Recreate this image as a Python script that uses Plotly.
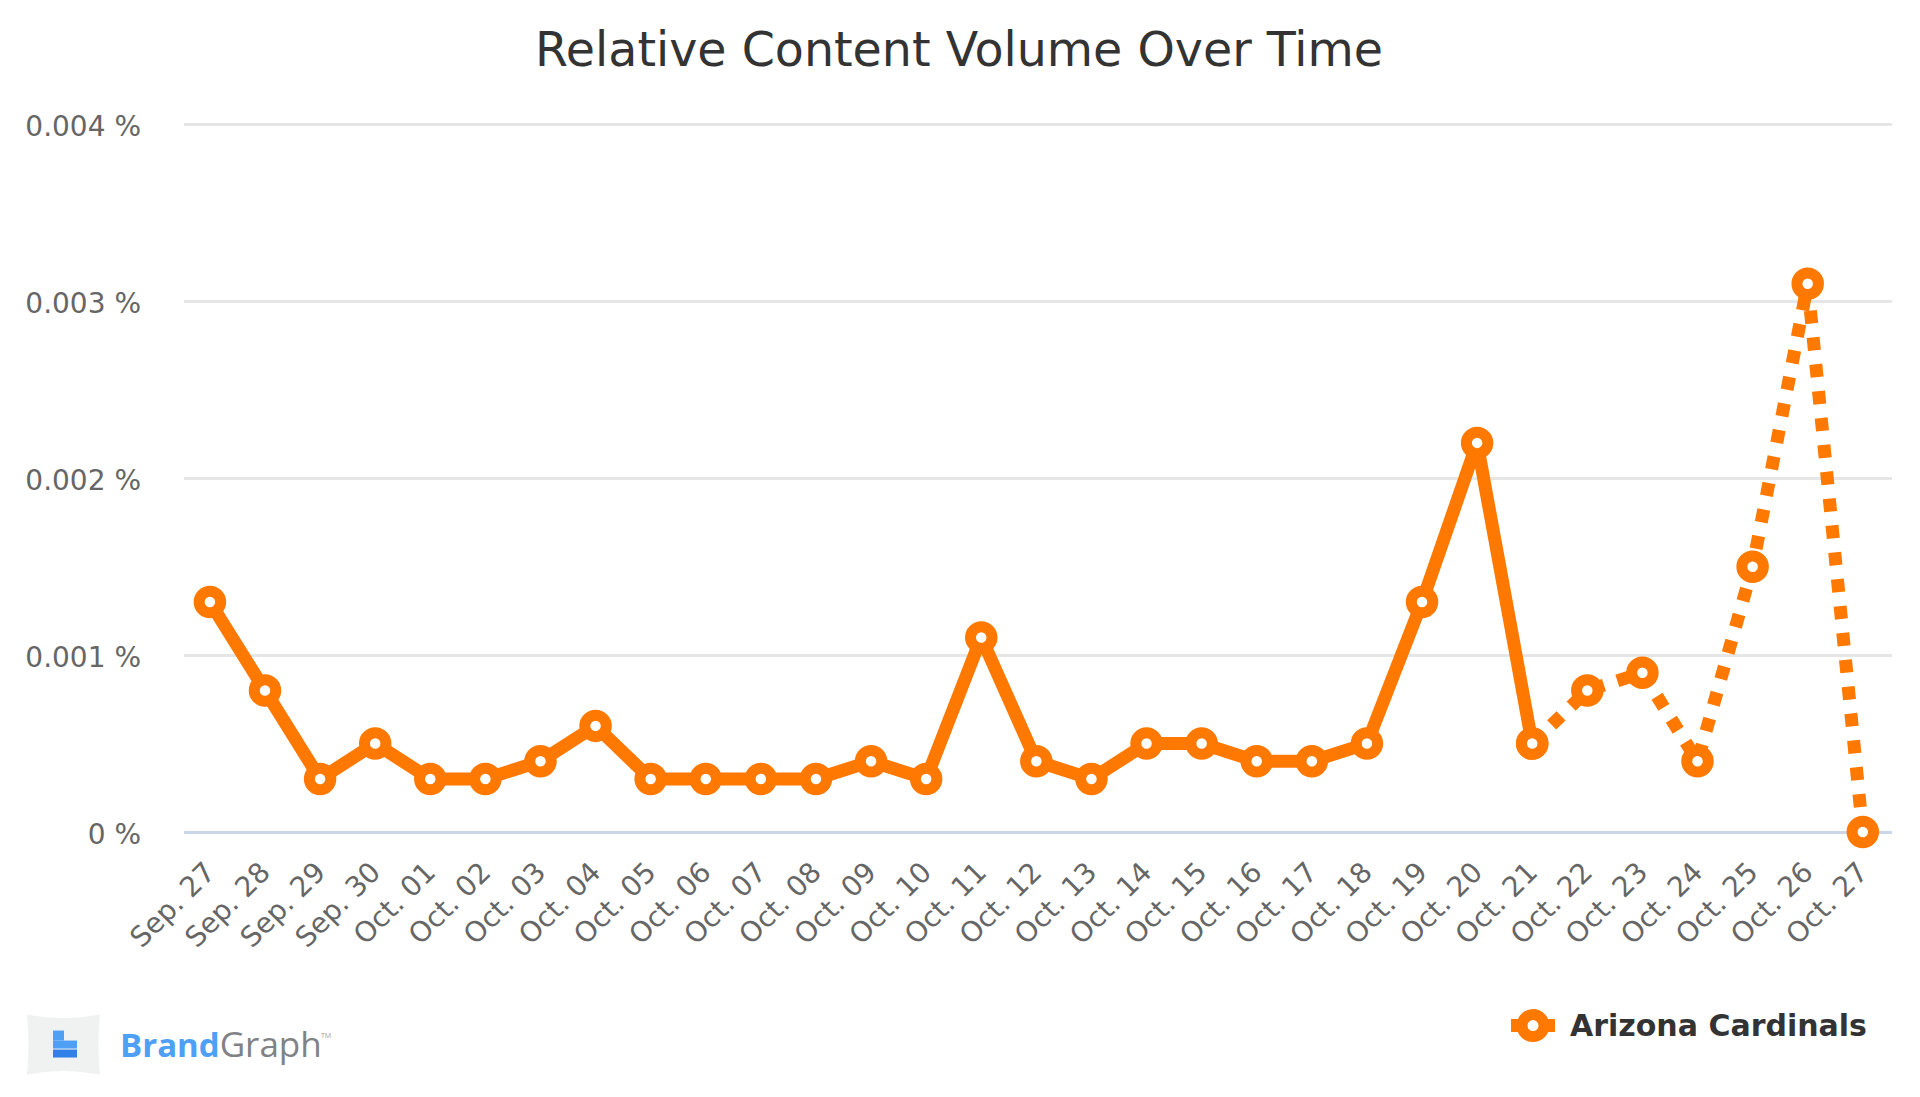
import plotly.graph_objects as go

categories = ["Sep. 27", "Sep. 28", "Sep. 29", "Sep. 30", "Oct. 01", "Oct. 02", "Oct. 03", "Oct. 04",
              "Oct. 05", "Oct. 06", "Oct. 07", "Oct. 08", "Oct. 09", "Oct. 10", "Oct. 11", "Oct. 12",
              "Oct. 13", "Oct. 14", "Oct. 15", "Oct. 16", "Oct. 17", "Oct. 18", "Oct. 19", "Oct. 20",
              "Oct. 21", "Oct. 22", "Oct. 23", "Oct. 24", "Oct. 25", "Oct. 26", "Oct. 27"]
solid_values = [0.0013, 0.0008, 0.0003, 0.0005, 0.0003, 0.0003, 0.0004, 0.0006, 0.0003, 0.0003,
                0.0003, 0.0003, 0.0004, 0.0003, 0.0011, 0.0004, 0.0003, 0.0005, 0.0005, 0.0004,
                0.0004, 0.0005, 0.0013, 0.0022, 0.0005]
dotted_values = [0.0005, 0.0008, 0.0009, 0.0004, 0.0015, 0.0031, 0.0]
y_ticks = [0, 0.001, 0.002, 0.003, 0.004]
y_labels = ["0 %", "0.001 %", "0.002 %", "0.003 %", "0.004 %"]
series_name = "Arizona Cardinals"

W, H = 1920, 1097
L, R, T, B = 184, 1892, 120.76, 832.3
ORANGE = "#ff7900"
FONT = "DejaVu Sans"


def px(x):
    return (x - L) / (R - L)


def py(y):
    return (B - y) / (B - T)


marker = dict(size=21.5, color="white", line=dict(color=ORANGE, width=11))
n_solid = len(solid_values)

fig = go.Figure()
fig.add_trace(go.Scatter(
    x=categories[n_solid - 1:], y=dotted_values, mode="lines+markers", name=series_name,
    showlegend=False, cliponaxis=False,
    line=dict(color=ORANGE, width=13, dash="13px,14px"), marker=marker))
fig.add_trace(go.Scatter(
    x=categories[:n_solid], y=solid_values, mode="lines+markers", name=series_name,
    showlegend=False, cliponaxis=False,
    line=dict(color=ORANGE, width=13), marker=marker))

shapes = [
    # legend swatch
    dict(type="rect", x0=px(1511), x1=px(1555), y0=py(1019.5), y1=py(1032.5),
         fillcolor=ORANGE, line_width=0),
    dict(type="circle", x0=px(1522), x1=px(1544), y0=py(1015), y1=py(1037),
         fillcolor="white", line=dict(color=ORANGE, width=11)),
    # logo
    dict(type="path", layer="below",
         path=(f"M {px(27)} {py(1015)} Q {px(63)} {py(1022)} {px(100)} {py(1015)} "
               f"Q {px(97)} {py(1045)} {px(100)} {py(1075)} "
               f"Q {px(63)} {py(1068)} {px(27)} {py(1075)} "
               f"Q {px(30)} {py(1045)} {px(27)} {py(1015)} Z"),
         fillcolor="#f0f2f2", line_width=0),
    dict(type="rect", x0=px(53), x1=px(64), y0=py(1031), y1=py(1041), fillcolor="#4f9ff5", line_width=0),
    dict(type="rect", x0=px(53), x1=px(77), y0=py(1041), y1=py(1049), fillcolor="#4f9ff5", line_width=0),
    dict(type="rect", x0=px(53), x1=px(77), y0=py(1050), y1=py(1058), fillcolor="#3080e8", line_width=0),
]
for s in shapes:
    s["xref"] = "paper"
    s["yref"] = "paper"

annotations = [
    dict(text="Relative Content Volume Over Time", x=px(959), y=py(49), xanchor="center", yanchor="middle",
         showarrow=False, font=dict(family=FONT, size=47.5, color="#333333")),
    dict(text=f"<b>{series_name}</b>", x=px(1568), y=py(1026), xanchor="left", yanchor="middle",
         showarrow=False, font=dict(family=FONT, size=30, color="#333333")),
    dict(text='<b><span style="color:#4f9ff5">Brand</span></b>'
              '<span style="color:#808285;font-size:35px">Graph</span>',
         x=px(118), y=py(1044), xanchor="left", yanchor="middle",
         showarrow=False, font=dict(family="Open Sans", size=33)),
    dict(text="TM", x=px(319), y=py(1036), xanchor="left", yanchor="middle",
         showarrow=False, font=dict(family="Open Sans", size=7, color="#a0a0a0")),
]
for a in annotations:
    a["xref"] = "paper"
    a["yref"] = "paper"

fig.update_layout(
    width=W, height=H, autosize=False,
    margin=dict(l=L, r=W - R, t=T, b=H - B, pad=0),
    paper_bgcolor="white", plot_bgcolor="white",
    showlegend=False, shapes=shapes, annotations=annotations,
    font=dict(family=FONT, color="#666666"),
    xaxis=dict(type="category", categoryorder="array", categoryarray=categories,
               tickmode="array", tickvals=categories, ticktext=categories,
               range=[-0.47, 30.53], tickangle=-45, showgrid=False, zeroline=False,
               showline=False, ticks="", ticklabelstandoff=17, ticklabelshift=-3,
               tickfont=dict(family=FONT, size=28, color="#666666")),
    yaxis=dict(range=[0, 0.00402], tickmode="array", tickvals=y_ticks, ticktext=y_labels,
               showgrid=True, gridcolor="#e6e6e6", gridwidth=2.5,
               zeroline=True, zerolinecolor="#ccd6eb", zerolinewidth=2.5,
               showline=False, ticks="", ticklabelstandoff=42, ticklabelshift=2,
               tickfont=dict(family=FONT, size=28, color="#666666")),
)

fig.write_html("out.html", config={"displayModeBar": False},
               post_script="document.body.style.margin='0';")
